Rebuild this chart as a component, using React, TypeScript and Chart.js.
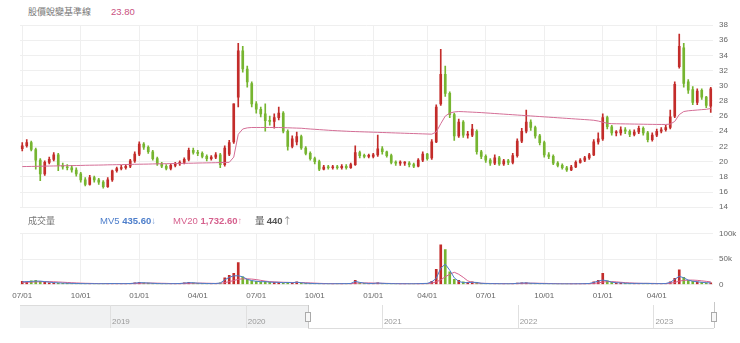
import React, { useEffect, useRef } from 'react';
import { Chart, registerables } from 'chart.js';

Chart.register(...registerables);

// ---- weekly categories (Mondays), closed market weeks removed ----
const FIRST_WEEK = '2020-06-29';
const CLOSED_WEEKS = ['2022-01-31', '2023-01-23'];
const QUARTER_MONTHS = [1, 4, 7, 10];

// ---- price (weekly OHLC) ----
const opens = [
  21.7, 22.1, 22.5, 21.6, 20.2, 18.4, 19.9, 20.3, 20.9, 19.5,
  19.3, 19.2, 18.9, 18.4, 17.6, 17.0, 17.9, 17.6, 17.3, 16.7,
  17.6, 18.8, 19.1, 19.2, 19.4, 20.1, 21.0, 22.3, 21.9, 21.3,
  20.4, 19.7, 19.4, 19.1, 19.5, 19.7, 19.9, 20.3, 21.5, 21.2,
  21.1, 20.7, 20.4, 20.6, 20.9, 19.6, 21.0, 22.6, 28.5, 34.6,
  32.2, 30.3, 27.6, 26.9, 26.3, 25.4, 25.3, 25.8, 26.4, 24.0,
  22.0, 22.6, 23.3, 21.8, 21.1, 20.4, 20.0, 19.0, 19.3, 19.2,
  19.3, 19.2, 19.4, 19.2, 19.6, 21.2, 20.8, 20.7, 20.7, 20.9,
  21.7, 21.3, 20.8, 19.9, 19.8, 19.8, 19.8, 19.6, 19.4, 20.2,
  21.0, 20.5, 22.6, 27.6, 31.5, 29.0, 26.2, 23.4, 25.2, 23.5,
  23.5, 24.0, 21.3, 20.7, 20.2, 19.8, 20.5, 19.7, 20.1, 19.9,
  20.8, 22.7, 24.0, 25.2, 24.5, 23.4, 22.5, 20.9, 20.7, 19.8,
  19.5, 19.2, 18.9, 19.3, 19.9, 20.2, 20.5, 20.9, 22.6, 23.0,
  25.8, 24.6, 23.8, 23.8, 24.2, 24.0, 23.6, 23.9, 24.4, 23.8,
  22.9, 23.5, 24.0, 24.2, 24.5, 26.0, 32.5, 35.0, 30.5, 29.5,
  27.8, 29.4, 28.5, 27.3,
];
const highs = [
  22.5, 22.9, 22.7, 21.8, 20.4, 20.1, 20.6, 21.2, 21.1, 19.8,
  19.6, 19.5, 19.2, 18.6, 17.9, 18.2, 18.1, 17.8, 17.5, 17.9,
  18.9, 19.3, 19.5, 19.6, 20.3, 21.3, 22.6, 22.5, 22.1, 21.5,
  20.6, 19.9, 19.6, 19.7, 19.9, 20.1, 20.5, 21.8, 21.8, 21.5,
  21.3, 20.9, 20.8, 21.2, 21.1, 22.1, 22.8, 27.6, 35.6, 35.2,
  32.6, 30.5, 27.9, 27.2, 27.6, 26.0, 26.3, 27.2, 26.6, 24.2,
  23.4, 23.9, 23.5, 22.0, 21.3, 20.6, 20.2, 19.5, 19.5, 19.5,
  19.5, 19.6, 19.6, 19.8, 22.1, 21.4, 21.0, 21.0, 21.1, 23.5,
  22.0, 21.4, 21.0, 20.1, 20.1, 20.0, 20.0, 19.8, 20.4, 21.3,
  21.1, 22.9, 27.5, 34.8, 32.6, 29.2, 26.4, 25.6, 25.4, 24.0,
  24.9, 24.2, 21.5, 20.9, 20.4, 20.9, 20.7, 20.3, 20.3, 21.1,
  23.0, 24.4, 26.8, 25.5, 24.7, 23.6, 22.7, 21.2, 20.9, 20.0,
  19.7, 19.4, 19.5, 20.1, 20.4, 20.7, 21.1, 22.9, 23.8, 26.3,
  26.0, 24.8, 24.1, 24.6, 24.5, 24.2, 24.2, 24.7, 24.6, 24.0,
  23.8, 24.3, 24.5, 24.8, 26.8, 30.5, 36.8, 35.6, 30.8, 29.9,
  29.6, 29.6, 28.6, 29.8,
];
const lows = [
  21.4, 21.9, 21.4, 19.0, 17.5, 18.2, 19.7, 20.1, 18.8, 19.0,
  18.9, 18.6, 18.1, 17.3, 16.8, 16.9, 17.3, 17.0, 16.5, 16.6,
  17.4, 18.6, 18.9, 19.0, 19.2, 19.9, 20.8, 21.6, 21.1, 20.2,
  19.5, 19.2, 18.9, 18.9, 19.3, 19.5, 19.7, 20.1, 21.0, 20.8,
  20.5, 20.1, 20.2, 20.4, 19.2, 19.4, 20.8, 22.4, 27.2, 31.8,
  29.8, 27.2, 26.4, 25.9, 24.0, 24.8, 24.4, 25.5, 23.8, 21.5,
  21.8, 22.2, 21.6, 20.9, 20.2, 19.7, 18.8, 18.9, 19.0, 19.0,
  19.0, 19.0, 19.0, 19.1, 19.5, 20.5, 20.5, 20.5, 20.5, 20.7,
  21.0, 20.6, 19.7, 19.5, 19.5, 19.5, 19.3, 19.2, 19.3, 20.0,
  20.2, 20.3, 22.5, 27.4, 28.6, 25.8, 22.8, 23.2, 23.2, 23.1,
  23.3, 21.0, 20.4, 19.9, 19.5, 19.6, 19.5, 19.5, 19.6, 19.7,
  20.6, 22.5, 23.8, 24.1, 23.1, 22.2, 20.6, 20.4, 19.6, 19.3,
  19.0, 18.7, 18.8, 19.2, 19.8, 20.0, 20.3, 20.8, 22.3, 22.8,
  24.3, 23.5, 23.4, 23.5, 23.7, 23.3, 23.4, 23.7, 23.5, 22.6,
  22.7, 23.3, 23.8, 24.0, 24.3, 25.8, 32.3, 29.8, 29.0, 27.5,
  27.5, 28.2, 27.1, 26.5,
];
const closes = [
  22.1, 22.5, 21.6, 20.2, 18.4, 19.9, 20.3, 20.9, 19.5, 19.3,
  19.2, 18.9, 18.4, 17.6, 17.0, 17.9, 17.6, 17.3, 16.7, 17.6,
  18.8, 19.1, 19.2, 19.4, 20.1, 21.0, 22.3, 21.9, 21.3, 20.4,
  19.7, 19.4, 19.1, 19.5, 19.7, 19.9, 20.3, 21.5, 21.2, 21.1,
  20.7, 20.4, 20.6, 20.9, 19.6, 21.8, 22.5, 27.6, 34.6, 32.2,
  30.5, 27.6, 26.9, 26.3, 25.4, 25.3, 25.8, 26.4, 24.0, 22.0,
  23.0, 23.3, 21.8, 21.1, 20.4, 20.0, 19.0, 19.3, 19.2, 19.3,
  19.2, 19.4, 19.2, 19.6, 21.2, 20.8, 20.7, 20.7, 20.9, 21.7,
  21.3, 20.8, 19.9, 19.8, 19.8, 19.8, 19.6, 19.4, 20.2, 21.0,
  20.4, 22.6, 27.2, 31.5, 29.0, 26.2, 23.4, 25.2, 23.5, 23.5,
  24.3, 21.3, 20.7, 20.2, 19.8, 20.5, 19.7, 20.1, 19.9, 20.8,
  22.7, 24.0, 25.2, 24.5, 23.4, 22.5, 20.9, 20.7, 19.8, 19.5,
  19.2, 18.9, 19.3, 19.9, 20.2, 20.5, 20.9, 22.6, 23.0, 25.8,
  24.6, 23.8, 23.8, 24.2, 24.0, 23.6, 23.9, 24.4, 23.8, 22.9,
  23.5, 24.0, 24.2, 24.5, 25.9, 30.2, 35.2, 30.3, 29.4, 27.8,
  29.3, 28.5, 27.4, 29.6,
];
// 股價蛻變基準線
const baseLine = [
  19.35, 19.36, 19.37, 19.38, 19.40, 19.41, 19.42, 19.43, 19.44, 19.46,
  19.47, 19.48, 19.49, 19.50, 19.52, 19.53, 19.54, 19.55, 19.56, 19.58,
  19.59, 19.60, 19.61, 19.62, 19.64, 19.65, 19.66, 19.67, 19.68, 19.70,
  19.71, 19.72, 19.73, 19.74, 19.76, 19.77, 19.78, 19.79, 19.80, 19.82,
  19.83, 19.84, 19.85, 19.86, 19.88, 19.89, 19.91, 20.6, 23.6, 24.3,
  24.45, 24.5, 24.5, 24.5, 24.5, 24.5, 24.5, 24.5, 24.48, 24.46,
  24.44, 24.42, 24.4, 24.35, 24.3, 24.26, 24.22, 24.18, 24.14, 24.1,
  24.07, 24.04, 24.01, 23.98, 23.96, 23.94, 23.92, 23.9, 23.88, 23.86,
  23.84, 23.82, 23.8, 23.78, 23.76, 23.74, 23.72, 23.7, 23.68, 23.66,
  23.64, 23.62, 23.9, 25.0, 26.0, 26.4, 26.55, 26.6, 26.58, 26.55,
  26.52, 26.49, 26.46, 26.42, 26.38, 26.34, 26.3, 26.26, 26.22, 26.18,
  26.14, 26.1, 26.06, 26.02, 25.98, 25.94, 25.9, 25.86, 25.82, 25.78,
  25.74, 25.7, 25.66, 25.62, 25.58, 25.54, 25.5, 25.45, 25.35, 25.2,
  25.05, 25.0, 24.99, 24.98, 24.97, 24.96, 24.95, 24.94, 24.93, 24.92,
  24.91, 24.9, 24.9, 24.9, 24.95, 25.3, 26.2, 26.6, 26.7, 26.75,
  26.8, 26.85, 26.9, 27.0,
];

// ---- volume (thousand lots) ----
const volumeK = [
  6, 5, 7, 8, 6, 4, 3, 3, 2.5, 2,
  2, 1.8, 1.5, 1.5, 1.5, 1.5, 1.2, 1.2, 1.5, 1.5,
  2, 1.5, 1.5, 1.5, 2, 3, 4, 3, 2.5, 2,
  1.5, 1.2, 1.2, 1.5, 1.5, 2, 3, 4, 3, 2,
  2, 1.5, 1.5, 2, 3, 13, 18, 22, 43, 15,
  10, 7, 6, 5, 6, 4, 4, 4, 3, 4,
  3, 5, 3, 2, 2, 1.5, 1.5, 1.2, 1.2, 1.2,
  1.5, 1.5, 1.5, 2, 8, 3, 2, 1.5, 2, 3,
  2, 1.5, 1.5, 1.2, 1.2, 1.2, 1.2, 1.2, 1.5, 2,
  2, 6, 30, 78, 69, 25, 10, 8, 5, 4,
  5, 4, 2, 1.5, 1.5, 1.5, 1.2, 1.2, 1.2, 1.5,
  2.5, 3, 3, 2, 2, 1.5, 1.5, 1.2, 1.2, 1,
  1, 1, 1, 1.2, 1.2, 1.5, 2, 5, 8, 22,
  7, 4, 3, 3, 2, 2, 2, 2, 2, 2,
  1.5, 1.5, 1.5, 2, 5, 12, 29, 14, 8, 6,
  5, 4, 3, 3,
];
const mv5K = [
  5, 5.5, 6, 6.5, 6.5, 5.5, 4.5, 3.5, 3, 2.5,
  2.2, 2, 1.8, 1.6, 1.5, 1.5, 1.4, 1.3, 1.4, 1.5,
  1.7, 1.6, 1.5, 1.5, 1.8, 2.5, 3.5, 3.2, 2.7, 2.2,
  1.7, 1.4, 1.3, 1.4, 1.5, 1.8, 2.6, 3.5, 3.2, 2.4,
  2, 1.7, 1.6, 1.8, 2.6, 9, 14, 17, 17, 15,
  10, 7.5, 6.2, 5.3, 5.5, 4.5, 4.2, 4, 3.3, 3.8,
  3.3, 4.4, 3.3, 2.3, 2, 1.6, 1.5, 1.3, 1.2, 1.2,
  1.4, 1.5, 1.5, 1.9, 6, 4, 2.5, 1.8, 1.9, 2.7,
  2.2, 1.7, 1.5, 1.3, 1.2, 1.2, 1.2, 1.2, 1.4, 1.8,
  2, 5, 12, 32, 40, 28, 13, 6, 3.5, 3.5,
  4.2, 3.8, 2.3, 1.7, 1.5, 1.5, 1.3, 1.2, 1.2, 1.4,
  2.2, 2.8, 3, 2.3, 2, 1.6, 1.5, 1.3, 1.2, 1,
  1, 1, 1, 1.1, 1.2, 1.4, 1.8, 4, 6.5, 8.5,
  7, 4.5, 3.2, 3, 2.3, 2, 2, 2, 2, 2,
  1.6, 1.5, 1.5, 1.8, 4, 10, 16, 13, 8.5, 6.3,
  5.2, 4.2, 3.3, 3,
];
const mv20K = [
  4, 4.3, 4.6, 5, 5.3, 5.5, 5.5, 5.2, 4.8, 4.3,
  3.8, 3.3, 2.9, 2.5, 2.2, 2, 1.8, 1.6, 1.5, 1.5,
  1.5, 1.5, 1.5, 1.5, 1.6, 1.8, 2.1, 2.4, 2.6, 2.6,
  2.4, 2.2, 2, 1.7, 1.5, 1.5, 1.7, 2, 2.3, 2.5,
  2.5, 2.3, 2.1, 1.9, 2, 3.5, 5.5, 7.5, 10, 11,
  11, 10.5, 9.5, 8, 6.5, 5.5, 5, 4.6, 4.2, 4,
  3.8, 3.8, 3.6, 3.3, 2.9, 2.5, 2.1, 1.8, 1.6, 1.4,
  1.3, 1.3, 1.4, 1.5, 2.4, 2.8, 2.9, 2.9, 2.6, 2.3,
  2.1, 2, 1.8, 1.6, 1.4, 1.3, 1.2, 1.2, 1.3, 1.4,
  1.5, 2.5, 5, 9, 15, 20, 24, 20, 14, 7,
  4, 2.5, 2.2, 2, 1.8, 1.6, 1.5, 1.4, 1.4, 1.4,
  1.6, 1.9, 2.2, 2.4, 2.4, 2.2, 2, 1.8, 1.6, 1.4,
  1.2, 1.1, 1.1, 1.1, 1.1, 1.2, 1.4, 2, 3, 4.5,
  5.5, 5.5, 5, 4.2, 3.5, 3, 2.5, 2.2, 2, 2,
  2, 1.8, 1.7, 1.7, 2.2, 4, 6.5, 8, 8.5, 8.5,
  8, 7, 6, 5,
];

// ---- axis / text content ----
const PRICE_MIN = 14;
const PRICE_MAX = 38;
const PRICE_STEP = 2;
const VOL_MAX_K = 100;
const VOL_STEP_K = 50;
const TITLE = '股價蛻變基準線';
const TITLE_VALUE = '23.80';
const VOL_TITLE = '成交量';
const MV5_LABEL = 'MV5';
const MV5_VALUE = '435.60';
const MV20_LABEL = 'MV20';
const MV20_VALUE = '1,732.60';
const VOL_LABEL = '量';
const VOL_VALUE = '440';
const NAV_YEARS = ['2019', '2020', '2021', '2022', '2023'];
const NAV_FROM = '2018-05-04';
const NAV_TO = '2023-06-13';
const NAV_SELECT_FROM = '2020-06-17';

const RED = '#c32c2a';
const GREEN = '#76b530';
const BASE_COLOR = '#d46e96';
const MV5_COLOR = '#4d7ecb';
const MV20_COLOR = '#d6618e';
const GRID = '#efefef';
const TICK = '#666';
const FONT = "'Liberation Sans', Arial, sans-serif";
const CJK = "'Noto Sans CJK TC', 'Liberation Sans', sans-serif";

function buildWeeks(n: number) {
  const out: { iso: string; q: string }[] = [];
  const d = new Date(FIRST_WEEK + 'T00:00:00Z');
  while (out.length < n) {
    const iso = d.toISOString().slice(0, 10);
    if (!CLOSED_WEEKS.includes(iso)) {
      let q = '';
      for (let j = 0; j < 7; j++) {
        const dd = new Date(d.getTime() + j * 86400000);
        if (dd.getUTCDate() === 1 && QUARTER_MONTHS.includes(dd.getUTCMonth() + 1)) {
          q = String(dd.getUTCMonth() + 1).padStart(2, '0') + '/01';
        }
      }
      out.push({ iso, q });
    }
    d.setUTCDate(d.getUTCDate() + 7);
  }
  return out;
}

const PLOT_LEFT = 20;
const PLOT_RIGHT = 713;
const AXIS_W = 740 - PLOT_RIGHT;

export default function App() {
  const priceRef = useRef<HTMLCanvasElement>(null);
  const volRef = useRef<HTMLCanvasElement>(null);

  useEffect(() => {
    const weeks = buildWeeks(closes.length);
    const labels = weeks.map((w) => w.iso);
    const up = closes.map((c, i) => c >= opens[i]);
    const candleColor = (ctx: any) => (up[ctx.dataIndex] ? RED : GREEN);
    const gridColor = (ctx: any) => (weeks[ctx.index] && weeks[ctx.index].q ? GRID : 'rgba(0,0,0,0)');
    const fixW = (s: any) => { s.width = AXIS_W; };

    const price = new Chart(priceRef.current as HTMLCanvasElement, {
      type: 'bar',
      data: {
        labels,
        datasets: [
          {
            type: 'line',
            data: baseLine,
            borderColor: BASE_COLOR,
            borderWidth: 1,
            pointRadius: 0,
            tension: 0,
            order: 0,
          } as any,
          {
            data: opens.map((o, i) => [o, closes[i]]),
            backgroundColor: candleColor,
            barThickness: 2,
            minBarLength: 1,
            grouped: false,
            order: 1,
          } as any,
          {
            data: lows.map((l, i) => [l, highs[i]]),
            backgroundColor: candleColor,
            barThickness: 1,
            grouped: false,
            order: 2,
          } as any,
        ],
      },
      options: {
        animation: false,
        responsive: false,
        maintainAspectRatio: false,
        layout: { padding: { left: PLOT_LEFT, top: 25, bottom: 5, right: 0 } },
        plugins: { legend: { display: false }, tooltip: { enabled: false } },
        scales: {
          x: {
            offset: true,
            ticks: { display: false, autoSkip: false },
            grid: { offset: false, color: gridColor, drawTicks: false },
            border: { display: false },
          },
          y: {
            position: 'right',
            min: PRICE_MIN,
            max: PRICE_MAX,
            ticks: { stepSize: PRICE_STEP, padding: 6, color: TICK, font: { family: FONT, size: 8 } },
            grid: { color: GRID, drawTicks: false },
            border: { display: false },
            afterFit: fixW,
          },
        },
      } as any,
    });

    const vol = new Chart(volRef.current as HTMLCanvasElement, {
      type: 'bar',
      data: {
        labels,
        datasets: [
          {
            type: 'line',
            data: mv5K,
            borderColor: MV5_COLOR,
            borderWidth: 1,
            pointRadius: 0,
            order: 0,
          } as any,
          {
            type: 'line',
            data: mv20K,
            borderColor: MV20_COLOR,
            borderWidth: 1,
            pointRadius: 0,
            order: 1,
          } as any,
          {
            data: volumeK,
            backgroundColor: candleColor,
            barThickness: 2,
            order: 2,
          } as any,
        ],
      },
      options: {
        animation: false,
        responsive: false,
        maintainAspectRatio: false,
        layout: { padding: { left: PLOT_LEFT, top: 6, bottom: 5, right: 0 } },
        plugins: { legend: { display: false }, tooltip: { enabled: false } },
        scales: {
          x: {
            offset: true,
            ticks: {
              autoSkip: false,
              maxRotation: 0,
              minRotation: 0,
              padding: 7,
              color: TICK,
              font: { family: FONT, size: 8 },
              callback: (_v: any, i: number) => weeks[i].q,
            },
            grid: { offset: false, color: gridColor, drawTicks: false },
            border: { display: false },
          },
          y: {
            position: 'right',
            min: 0,
            max: VOL_MAX_K,
            ticks: {
              stepSize: VOL_STEP_K,
              padding: 6,
              color: TICK,
              font: { family: FONT, size: 8 },
              callback: (v: any) => (v === 0 ? '0' : v + 'k'),
            },
            grid: { color: GRID, drawTicks: false },
            border: { display: false },
            afterFit: fixW,
          },
        },
      } as any,
    });

    return () => {
      price.destroy();
      vol.destroy();
    };
  }, []);

  // navigator geometry (decoration)
  const t = (s: string) => Date.parse(s + 'T00:00:00Z');
  const NAV_L = PLOT_LEFT;
  const NAV_R = 714;
  const navX = (ms: number) => NAV_L + ((ms - t(NAV_FROM)) / (t(NAV_TO) - t(NAV_FROM))) * (NAV_R - NAV_L);
  const selX = navX(t(NAV_SELECT_FROM));
  const NAV_TOP = 305;
  const NAV_BOTTOM = 328;

  const abs = (s: React.CSSProperties): React.CSSProperties => ({ position: 'absolute', ...s });

  return (
    <div style={{ position: 'fixed', left: 0, top: 0, width: 740, height: 343, background: '#fff', overflow: 'hidden' }}>
      <div style={abs({ left: 28, top: 4, fontFamily: CJK, fontSize: 9, lineHeight: '15px', color: '#777', whiteSpace: 'nowrap' })}>
        {TITLE}
        <span style={{ fontFamily: FONT, color: '#c9517f', marginLeft: 20, fontSize: 9.5 }}>{TITLE_VALUE}</span>
      </div>
      <canvas ref={priceRef} width={740} height={218} style={abs({ left: 0, top: 0, width: 740, height: 218 })} />
      <div style={abs({ left: 28, top: 213, fontFamily: CJK, fontSize: 9, lineHeight: '15px', color: '#777', whiteSpace: 'nowrap' })}>
        {VOL_TITLE}
      </div>
      <div style={abs({ left: 100, top: 213, fontFamily: FONT, fontSize: 9.5, lineHeight: '15px', color: MV5_COLOR, whiteSpace: 'nowrap' })}>
        {MV5_LABEL} <b>{MV5_VALUE}</b><span style={{ opacity: 0.7 }}>↓</span>
      </div>
      <div style={abs({ left: 173, top: 213, fontFamily: FONT, fontSize: 9.5, lineHeight: '15px', color: MV20_COLOR, whiteSpace: 'nowrap' })}>
        {MV20_LABEL} <b>{MV20_VALUE}</b><span style={{ opacity: 0.7 }}>↑</span>
      </div>
      <div style={abs({ left: 255, top: 213, fontFamily: CJK, fontSize: 9.5, lineHeight: '15px', color: '#555', whiteSpace: 'nowrap' })}>
        {VOL_LABEL} <b style={{ fontFamily: FONT }}>{VOL_VALUE}</b><span style={{ opacity: 0.7 }}>↑</span>
      </div>
      <canvas ref={volRef} width={740} height={90} style={abs({ left: 0, top: 223, width: 740, height: 90 })} />

      {/* navigator */}
      <div style={abs({ left: NAV_L, top: NAV_TOP, width: selX - NAV_L, height: NAV_BOTTOM - NAV_TOP, background: '#f0f1f2', borderTop: '1px solid #dcdcdc', boxSizing: 'border-box' })} />
      <div style={abs({ left: selX, top: NAV_BOTTOM, width: NAV_R - selX, height: 1, background: '#dddddd' })} />
      {NAV_YEARS.map((y) => {
        const x = navX(t(y + '-01-01'));
        return (
          <React.Fragment key={y}>
            <div style={abs({ left: x, top: NAV_TOP, width: 1, height: NAV_BOTTOM - NAV_TOP, background: '#e0e0e0' })} />
            <div style={abs({ left: x + 2, top: 317, fontFamily: FONT, fontSize: 8, lineHeight: '10px', color: '#999' })}>{y}</div>
          </React.Fragment>
        );
      })}
      <div style={abs({ left: selX, top: NAV_TOP, width: 1, height: NAV_BOTTOM - NAV_TOP, background: '#c8c8c8' })} />
      <div style={abs({ left: selX - 3, top: 312, width: 6, height: 10, background: '#f7f7f7', border: '1px solid #aaa', boxSizing: 'border-box' })} />
      <div style={abs({ left: NAV_R, top: 302, width: 1, height: NAV_BOTTOM - 302, background: '#c8c8c8' })} />
      <div style={abs({ left: NAV_R - 3, top: 312, width: 6, height: 10, background: '#f7f7f7', border: '1px solid #aaa', boxSizing: 'border-box' })} />
    </div>
  );
}
